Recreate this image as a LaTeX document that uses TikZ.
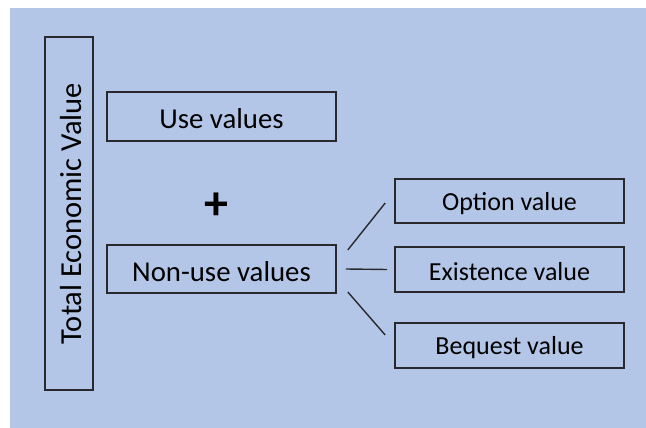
\documentclass[tikz,border=0pt]{standalone}
\usepackage{fontspec}
\setmainfont{Carlito}
\usetikzlibrary{calc}
\definecolor{bgblue}{RGB}{180,198,231}
\definecolor{edge}{RGB}{40,40,45}
\newcommand\lowtxt[1]{\raisebox{-2.5pt}[\height][\depth]{#1}}
\begin{document}
\begin{tikzpicture}[x=1pt,y=-1pt,
  box/.style={draw=edge,line width=1.6pt,rectangle,inner sep=0pt,minimum width=229pt,text=black},
  bigtxt/.style={font=\fontsize{28.8}{34}\selectfont},
  smalltxt/.style={font=\fontsize{26}{31}\selectfont},
  link/.style={draw=edge,line width=1.4pt}]
\useasboundingbox (0,0) rectangle (646,428);
\fill[white] (0,0) rectangle (646,428);
\fill[bgblue] (10,8) rectangle (646,428);
\node[box,rotate=90,minimum width=353pt,minimum height=48pt,font=\fontsize{30.5}{36}\selectfont] (tev) at (69,213.5) {\lowtxt{Total Economic Value}};
\node[box,bigtxt,minimum height=49pt] (use) at (221.5,116.5) {\lowtxt{Use values}};
\node[font=\bfseries\fontsize{48}{54}\selectfont] (plus) at (216,206) {+};
\node[box,bigtxt,minimum height=48pt] (nonuse) at (221.5,269) {\lowtxt{Non-use values}};
\node[box,smalltxt,minimum height=44pt] (opt) at (509.5,201) {\lowtxt{Option value}};
\node[box,smalltxt,minimum height=45pt] (exi) at (509.5,269.5) {\lowtxt{Existence value}};
\node[box,smalltxt,minimum height=45pt] (beq) at (509.5,345.5) {\lowtxt{Bequest value}};
\coordinate (a1) at ($(nonuse.east)+(11,-19)$);
\coordinate (b1) at ($(opt.west)+(-9,2)$);
\coordinate (a2) at ($(nonuse.east)+(9,0)$);
\coordinate (b2) at ($(exi.west)+(-7,0)$);
\coordinate (a3) at ($(nonuse.east)+(11,23)$);
\coordinate (b3) at ($(beq.west)+(-9,-10.5)$);
\draw[link] (a1) -- (b1);
\draw[link] (a2) -- (b2);
\draw[link] (a3) -- (b3);
\end{tikzpicture}
\end{document}
